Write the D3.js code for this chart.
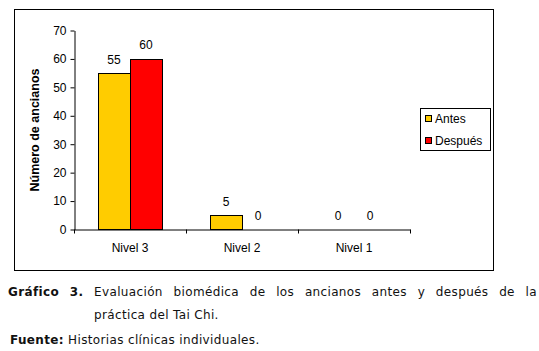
<!DOCTYPE html>
<html><head><meta charset="utf-8">
<script src="https://cdn.jsdelivr.net/npm/d3@7"></script>
<style>body{margin:0;background:#fff}svg{display:block}</style>
</head><body>
<svg id="c" width="539" height="351"></svg>
<script>
const categories = ["Nivel 3", "Nivel 2", "Nivel 1"];
const seriesNames = ["Antes", "Después"];
const antes = [55, 5, 0];
const despues = [60, 0, 0];
const yTicks = [0, 10, 20, 30, 40, 50, 60, 70];
const colors = ["#FFCC00", "#FF0000"];

const svg = d3.select("#c");
const F = "Liberation Sans, Arial, sans-serif";
// outer frame
svg.append("rect").attr("x",14.5).attr("y",9.5).attr("width",479).attr("height",261)
  .attr("fill","#fff").attr("stroke","#000").attr("stroke-width",1);

const x = d3.scaleBand().domain(categories).range([74,410]).paddingInner(0).paddingOuter(0);
const y = d3.scaleLinear().domain([0,70]).range([229.5,30.5]);
const xs = d3.scaleBand().domain(seriesNames).range([0, x.bandwidth()]).paddingInner(0).paddingOuter(0.75);

const data = categories.map((c,i)=>({cat:c, vals:[antes[i], despues[i]]}));
const g = svg.append("g");
data.forEach(d=>{
  d.vals.forEach((v,j)=>{
    const bx = x(d.cat)+xs(seriesNames[j]);
    if (v>0) g.append("rect").attr("x",Math.round(bx)+0.5).attr("y",Math.round(y(v))+0.5)
      .attr("width",xs.bandwidth()).attr("height",y(0)-Math.round(y(v))-0.5)
      .attr("fill",colors[j]).attr("stroke","#000").attr("stroke-width",1);
    g.append("text").attr("x",bx+xs.bandwidth()/2).attr("y",y(v)-9.5)
      .attr("text-anchor","middle").attr("font-family",F).attr("font-size",12).attr("fill","#000").text(v);
  });
});

// y axis
const ya = svg.append("g").attr("transform","translate(74.5,0)")
  .call(d3.axisLeft(y).tickValues(yTicks).tickSize(4).tickPadding(4).tickSizeOuter(0));
ya.selectAll("text").attr("font-family",F).attr("font-size",12).attr("fill","#000");
ya.selectAll("line,path").attr("stroke","#000");
// x axis
const xa = svg.append("g").attr("transform","translate(0,229.5)")
  .call(d3.axisBottom(x).tickSize(0).tickPadding(14).tickSizeOuter(0));
xa.selectAll("text").attr("font-family",F).attr("font-size",12).attr("fill","#000");
xa.selectAll("path").attr("stroke","#000");
// category boundary ticks
const bounds = categories.map(c=>x(c)).concat([x.range()[1]]);
svg.append("g").selectAll("line").data(bounds).join("line")
  .attr("x1",d=>Math.round(d)+0.5).attr("x2",d=>Math.round(d)+0.5)
  .attr("y1",229.5).attr("y2",233.5).attr("stroke","#000");

// y title
svg.append("text").attr("transform","translate(39,130) rotate(-90)")
  .attr("text-anchor","middle").attr("font-family",F).attr("font-size",12.5).attr("font-weight","bold")
  .text("Número de ancianos");

// legend
const lg = svg.append("g");
lg.append("rect").attr("x",420.5).attr("y",108.5).attr("width",70).attr("height",42)
  .attr("fill","#fff").attr("stroke","#000");
seriesNames.forEach((s,i)=>{
  lg.append("rect").attr("x",425.5).attr("y",115.5+i*22).attr("width",6).attr("height",6)
    .attr("fill",colors[i]).attr("stroke","#000");
  lg.append("text").attr("x",435).attr("y",123+i*22).attr("font-family",F).attr("font-size",12).text(s);
});

// caption
const CF = "Verdana, DejaVu Sans, sans-serif";
const LS = 0.35;
const words = [["Gráfico",true],["3.",true],["Evaluación"],["biomédica"],["de"],["los"],["ancianos"],["antes"],["y"],["después"],["de"],["la"]];
const cap = svg.append("g");
const nodes = words.map(w => cap.append("text").attr("y",296).attr("font-family",CF).attr("font-size",12)
  .attr("letter-spacing",LS).attr("font-weight",w[1]?"bold":"normal").attr("fill","#111").text(w[0]));
const widths = nodes.map(n=>n.node().getComputedTextLength());
const x0 = 8, x1 = 537;
const gap = (x1 - x0 - d3.sum(widths)) / (words.length-1);
let cx = x0;
nodes.forEach((n,i)=>{ n.attr("x",cx); cx += widths[i] + gap; });

svg.append("text").attr("x",94).attr("y",319).attr("font-family",CF).attr("font-size",12)
  .attr("letter-spacing",LS).attr("fill","#111").text("práctica del Tai Chi.");
svg.append("text").attr("x",10).attr("y",344).attr("font-family",CF).attr("font-size",12)
  .attr("letter-spacing",LS).attr("fill","#111")
  .html("<tspan font-weight='bold'>Fuente:</tspan> Historias clínicas individuales.");
</script>
</body></html>
